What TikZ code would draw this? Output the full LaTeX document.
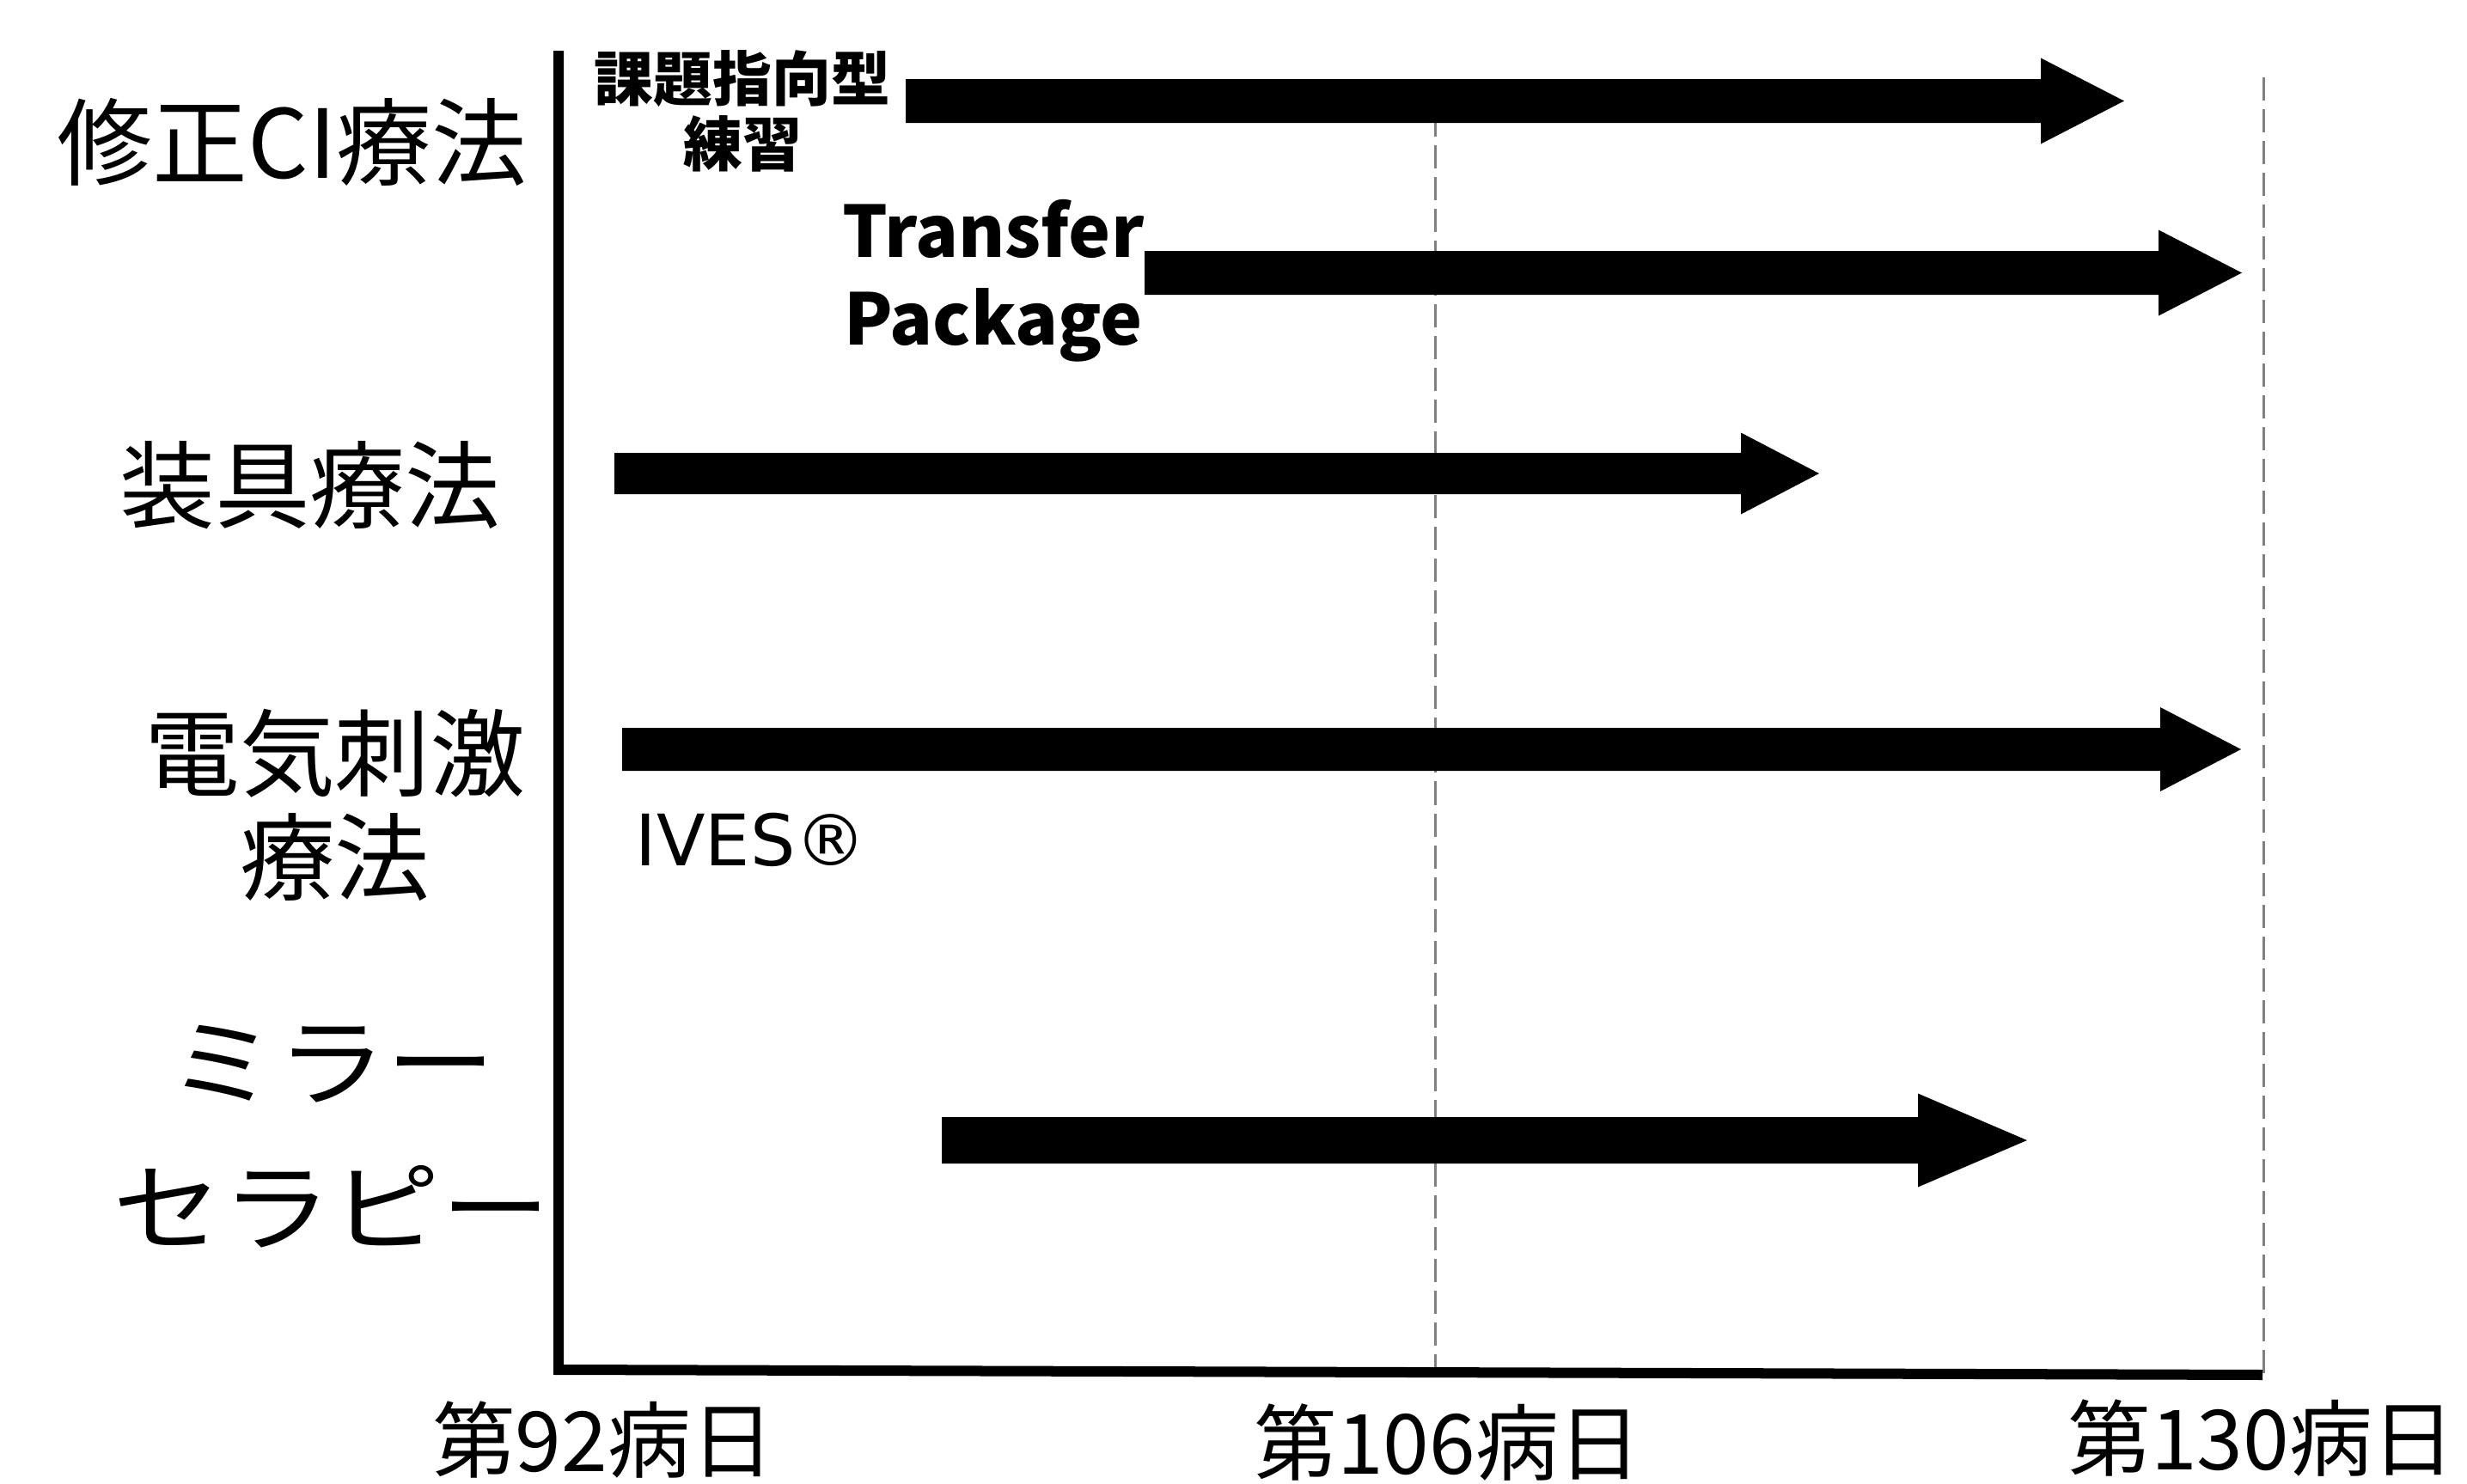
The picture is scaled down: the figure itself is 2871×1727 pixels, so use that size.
\documentclass[tikz,border=0pt]{standalone}
\usepackage{fontspec}
\setmainfont{Noto Sans CJK JP}
\newfontfamily\dejavu{DejaVu Sans}
\newfontfamily\widekana{Noto Sans CJK JP}[FakeStretch=1.13]
\newcommand\blockarrow[6]{% x0, xh, xt, yc, half shaft, half head
  \fill[black] ({#1},{#4-#5}) -- ({#2},{#4-#5}) -- ({#2},{#4-#6}) -- ({#3},{#4})
    -- ({#2},{#4+#6}) -- ({#2},{#4+#5}) -- ({#1},{#4+#5}) -- cycle;}
\begin{document}
\begin{tikzpicture}[x=0.01cm,y=-0.01cm,
  axisline/.style={line width=0.12cm, black, line join=miter},
  guide/.style={draw=black!50, line width=0.03cm, dash pattern=on 0.27cm off 0.1cm},
  lbl/.style={inner sep=0pt, align=center, font=\fontsize{31.5}{34.4}\selectfont},
  small/.style={inner sep=0pt, align=center, font=\bfseries\fontsize{19.6}{21.6}\selectfont},
  daylbl/.style={inner sep=0pt, font=\fontsize{27.5}{30}\selectfont}]
\useasboundingbox (0,0) rectangle (2871,1727);
% guides
\coordinate (g1top) at (1670,95);
\coordinate (g1bot) at (1670,1596);
\coordinate (g2top) at (2634,90);
\coordinate (g2bot) at (2634,1599);
\draw[guide] (g1top) -- (g1bot);
\draw[guide] (g2top) -- (g2bot);
% axes
\coordinate (ytop) at (650,59);
\coordinate (origin) at (650,1594);
\coordinate (xend) at (2633,1600);
\draw[axisline] (ytop) -- (origin) -- (xend);
% arrows
\blockarrow{1054}{2375}{2472}{117.5}{25.5}{50}
\blockarrow{1332}{2512}{2609}{317.5}{25.5}{50}
\blockarrow{715}{2026}{2117}{551}{24}{47.5}
\blockarrow{724}{2514}{2608}{872}{25}{49}
\blockarrow{1096}{2232}{2359}{1327}{27}{54.5}
% left labels
\node[lbl] (ci) at (340,165) {修正CI療法};
\node[lbl] (sogu) at (361,565) {装具療法};
\node[lbl] (denki) at (390,936.5) {電気刺激\\療法};
\node[lbl, font=\widekana\fontsize{32}{48}\selectfont] (mirror) at (386,1323) {ミラー\\セラピー};
% inner labels
\node[small] (task) at (864,129.5) {課題指向型\\練習};
\node[inner sep=0pt, align=center, font=\bfseries\fontsize{23.5}{29}\selectfont] (tp) at (1156,326.5) {Transfer\\Package};
\node[inner sep=0pt, font=\dejavu\fontsize{23.5}{26}\selectfont] (ives) at (874,977) {IVES®};
% day labels
\node[daylbl] (d92) at (702,1676) {第92病日};
\node[daylbl] (d106) at (1685,1679) {第106病日};
\node[daylbl] (d130) at (2632,1674) {第130病日};
\end{tikzpicture}
\end{document}
